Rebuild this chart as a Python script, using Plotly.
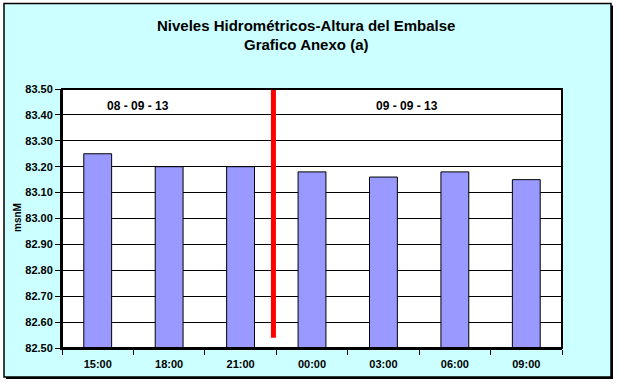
import plotly.graph_objects as go

categories = ["15:00", "18:00", "21:00", "00:00", "03:00", "06:00", "09:00"]
levels = [83.25, 83.20, 83.20, 83.18, 83.16, 83.18, 83.15]
date_labels = ["08 - 09 - 13", "09 - 09 - 13"]
divider_x = 2.46
divider_bottom = 82.54
y_min, y_max = 82.5, 83.5

FONT = "Liberation Sans, Arial, sans-serif"

# pixel geometry of plot area
L, R, T, B = 62, 562, 89, 348
W, H = 618, 385
pw, ph = R - L, B - T

def px(x):
    return (x - L) / pw

def py(y):
    return (B - y) / ph

fig = go.Figure()
fig.add_trace(go.Bar(
    x=categories, y=levels,
    marker=dict(color="#9999FF", line=dict(color="black", width=1)),
    hoverinfo="x+y",
))

shapes = [
    # shadow of outer panel
    dict(type="rect", xref="paper", yref="paper", layer="below",
         x0=px(6), x1=px(613), y0=py(379), y1=py(5.5),
         fillcolor="black", line=dict(width=0)),
    # outer panel
    dict(type="rect", xref="paper", yref="paper", layer="below",
         x0=px(4), x1=px(611), y0=py(377), y1=py(3.5),
         fillcolor="#CCFFFF", line=dict(color="black", width=1.5)),
    # plot area background
    dict(type="rect", xref="paper", yref="paper", layer="below",
         x0=0, x1=1, y0=0, y1=1, fillcolor="white", line=dict(width=0)),
    # divider line
    dict(type="line", xref="x", yref="y", layer="above",
         x0=divider_x, x1=divider_x, y0=divider_bottom, y1=y_max,
         line=dict(color="#FF0000", width=5)),
    # plot frame
    dict(type="rect", xref="paper", yref="paper", layer="above",
         x0=0, x1=1, y0=0, y1=1, line=dict(color="black", width=2)),
]

annotations = [
    dict(text="<b>Niveles Hidrométricos-Altura del Embalse</b>", xref="paper", yref="paper",
         x=px(306), y=py(25), showarrow=False, font=dict(family=FONT, size=15, color="black"),
         xanchor="center", yanchor="middle"),
    dict(text="<b>Grafico Anexo (a)</b>", xref="paper", yref="paper",
         x=px(306), y=py(45), showarrow=False, font=dict(family=FONT, size=15, color="black"),
         xanchor="center", yanchor="middle"),
    dict(text="<b>msnM</b>", xref="paper", yref="paper", x=px(17), y=py(218),
         textangle=-90, showarrow=False, font=dict(family=FONT, size=10, color="black"),
         xanchor="center", yanchor="middle"),
    dict(text="<b>" + date_labels[0] + "</b>", xref="paper", yref="paper",
         x=px(138), y=py(105.5), showarrow=False, font=dict(family=FONT, size=12, color="black"),
         xanchor="center", yanchor="middle"),
    dict(text="<b>" + date_labels[1] + "</b>", xref="paper", yref="paper",
         x=px(407), y=py(105.5), showarrow=False, font=dict(family=FONT, size=12, color="black"),
         xanchor="center", yanchor="middle"),
]

fig.update_layout(
    width=W, height=H,
    margin=dict(l=L, r=W - R, t=T, b=H - B, pad=0),
    paper_bgcolor="white",
    plot_bgcolor="white",
    showlegend=False,
    bargap=0.61,
    shapes=shapes,
    annotations=annotations,
    font=dict(family=FONT, size=11, color="black"),
)
fig.update_xaxes(
    type="category", tickson="boundaries", ticks="outside", ticklen=5, tickcolor="black",
    showline=True, linecolor="black", linewidth=2, showgrid=False,
    ticklabelstandoff=5,
    tickfont=dict(family=FONT, size=11, color="black"), tickprefix="<b>", ticksuffix="</b>",
)
fig.update_yaxes(
    range=[y_min, y_max], dtick=0.1, tick0=82.5, tickformat=".2f",
    ticks="outside", ticklen=5, tickcolor="black",
    showline=True, linecolor="black", linewidth=2,
    showgrid=True, gridcolor="black", gridwidth=1, zeroline=False,
    tickfont=dict(family=FONT, size=11, color="black"), tickprefix="<b>", ticksuffix="</b>",
)

fig.write_html("out.html")
